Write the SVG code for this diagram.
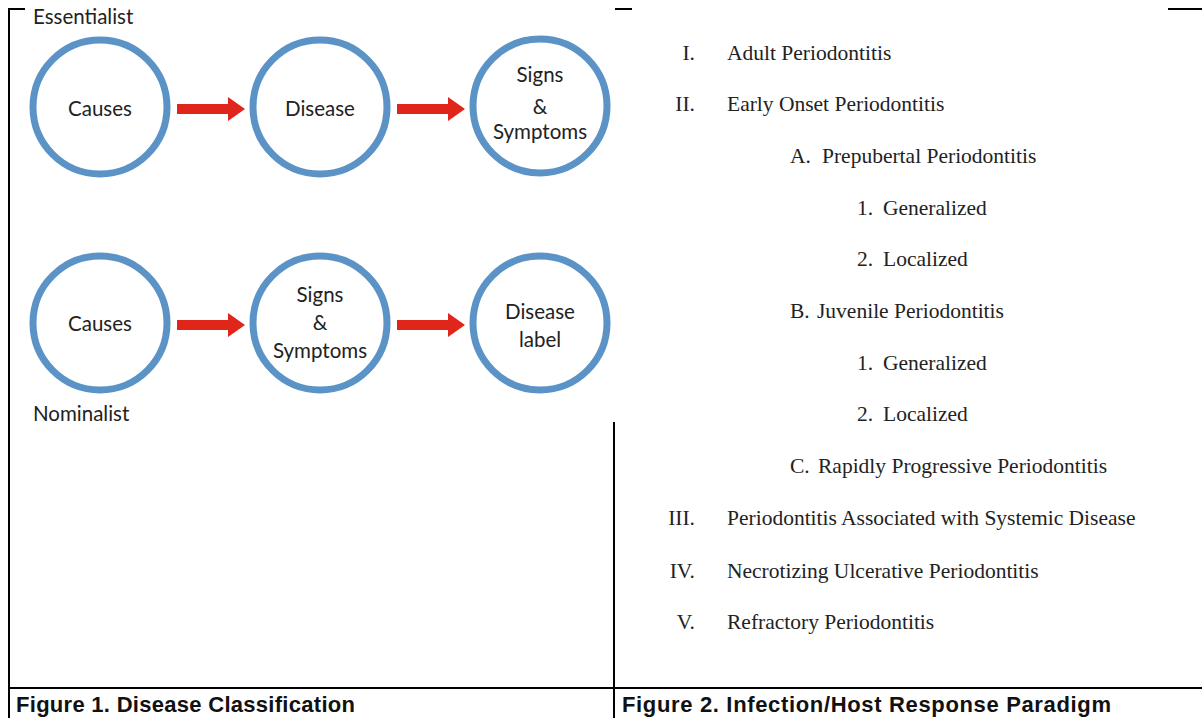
<svg xmlns="http://www.w3.org/2000/svg" width="1202" height="718" viewBox="0 0 1202 718">
  <style>
    .rule { stroke: #000; stroke-width: 2; fill: none; }
    .node circle { fill: #fff; stroke: #5b93c6; stroke-width: 7; }
    .node text, .tag { font-family: Lato, "Open Sans", sans-serif; font-size: 20.5px; fill: #222; text-anchor: middle; }
    .tag { text-anchor: start; }
    .arrow { fill: #e0251b; }
    .list text { font-family: "Liberation Serif", serif; font-size: 21.5px; fill: #222; }
    .list .num { text-anchor: end; }
    .cap { font-family: "Liberation Sans", Arial, sans-serif; font-size: 22px; font-weight: bold; fill: #111; }
  </style>

  <rect width="1202" height="718" fill="#fff"/>

  <!-- table rules -->
  <g id="frame">
    <path class="rule" d="M9 8 V718 M8 9 H25 M615 9 H632 M1168 9 H1202 M614 422 V718 M8 688 H1202"/>
  </g>

  <!-- Figure 1 labels -->
  <text class="tag" x="33" y="24">Essentialist</text>
  <text class="tag" x="33" y="421">Nominalist</text>

  <!-- connectors -->
  <g id="connectors">
    <path class="arrow" d="M177 104 H228 V97 L245 109 L228 121 V114 H177 Z"/>
    <path class="arrow" d="M397 104 H448 V97 L465 109 L448 121 V114 H397 Z"/>
    <path class="arrow" d="M177 320 H228 V313 L245 325 L228 337 V330 H177 Z"/>
    <path class="arrow" d="M397 320 H448 V313 L465 325 L448 337 V330 H397 Z"/>
  </g>

  <!-- essentialist row -->
  <g id="ess-causes" class="node">
    <circle cx="100" cy="107" r="67"/>
    <text x="100" y="116">Causes</text>
  </g>
  <g id="ess-disease" class="node">
    <circle cx="320" cy="107" r="67"/>
    <text x="320" y="116">Disease</text>
  </g>
  <g id="ess-signs" class="node">
    <circle cx="540" cy="106" r="67"/>
    <text x="540" y="82">Signs</text>
    <text x="540" y="114">&amp;</text>
    <text x="540" y="139">Symptoms</text>
  </g>

  <!-- nominalist row -->
  <g id="nom-causes" class="node">
    <circle cx="100" cy="323" r="67"/>
    <text x="100" y="331">Causes</text>
  </g>
  <g id="nom-signs" class="node">
    <circle cx="320" cy="323" r="67"/>
    <text x="320" y="302">Signs</text>
    <text x="320" y="330">&amp;</text>
    <text x="320" y="358">Symptoms</text>
  </g>
  <g id="nom-label" class="node">
    <circle cx="540" cy="323" r="67"/>
    <text x="540" y="319">Disease</text>
    <text x="540" y="347">label</text>
  </g>

  <!-- Figure 2 classification list -->
  <g id="classification" class="list">
    <text class="num" x="695" y="60">I.</text>
    <text x="727" y="60">Adult Periodontitis</text>
    <text class="num" x="695" y="111">II.</text>
    <text x="727" y="111">Early Onset Periodontitis</text>
    <text x="790" y="163">A.</text>
    <text x="822" y="163">Prepubertal Periodontitis</text>
    <text x="857" y="215">1.</text>
    <text x="883" y="215">Generalized</text>
    <text x="857" y="266">2.</text>
    <text x="883" y="266">Localized</text>
    <text x="790" y="318">B.</text>
    <text x="817" y="318">Juvenile Periodontitis</text>
    <text x="857" y="370">1.</text>
    <text x="883" y="370">Generalized</text>
    <text x="857" y="421">2.</text>
    <text x="883" y="421">Localized</text>
    <text x="790" y="473">C.</text>
    <text x="818" y="473">Rapidly Progressive Periodontitis</text>
    <text class="num" x="695" y="525">III.</text>
    <text x="727" y="525">Periodontitis Associated with Systemic Disease</text>
    <text class="num" x="695" y="578">IV.</text>
    <text x="727" y="578">Necrotizing Ulcerative Periodontitis</text>
    <text class="num" x="695" y="629">V.</text>
    <text x="727" y="629">Refractory Periodontitis</text>
  </g>

  <!-- captions -->
  <text class="cap" x="16" y="712" textLength="339" lengthAdjust="spacing">Figure 1. Disease Classification</text>
  <text class="cap" x="622" y="712" textLength="489" lengthAdjust="spacing">Figure 2. Infection/Host Response Paradigm</text>
</svg>
